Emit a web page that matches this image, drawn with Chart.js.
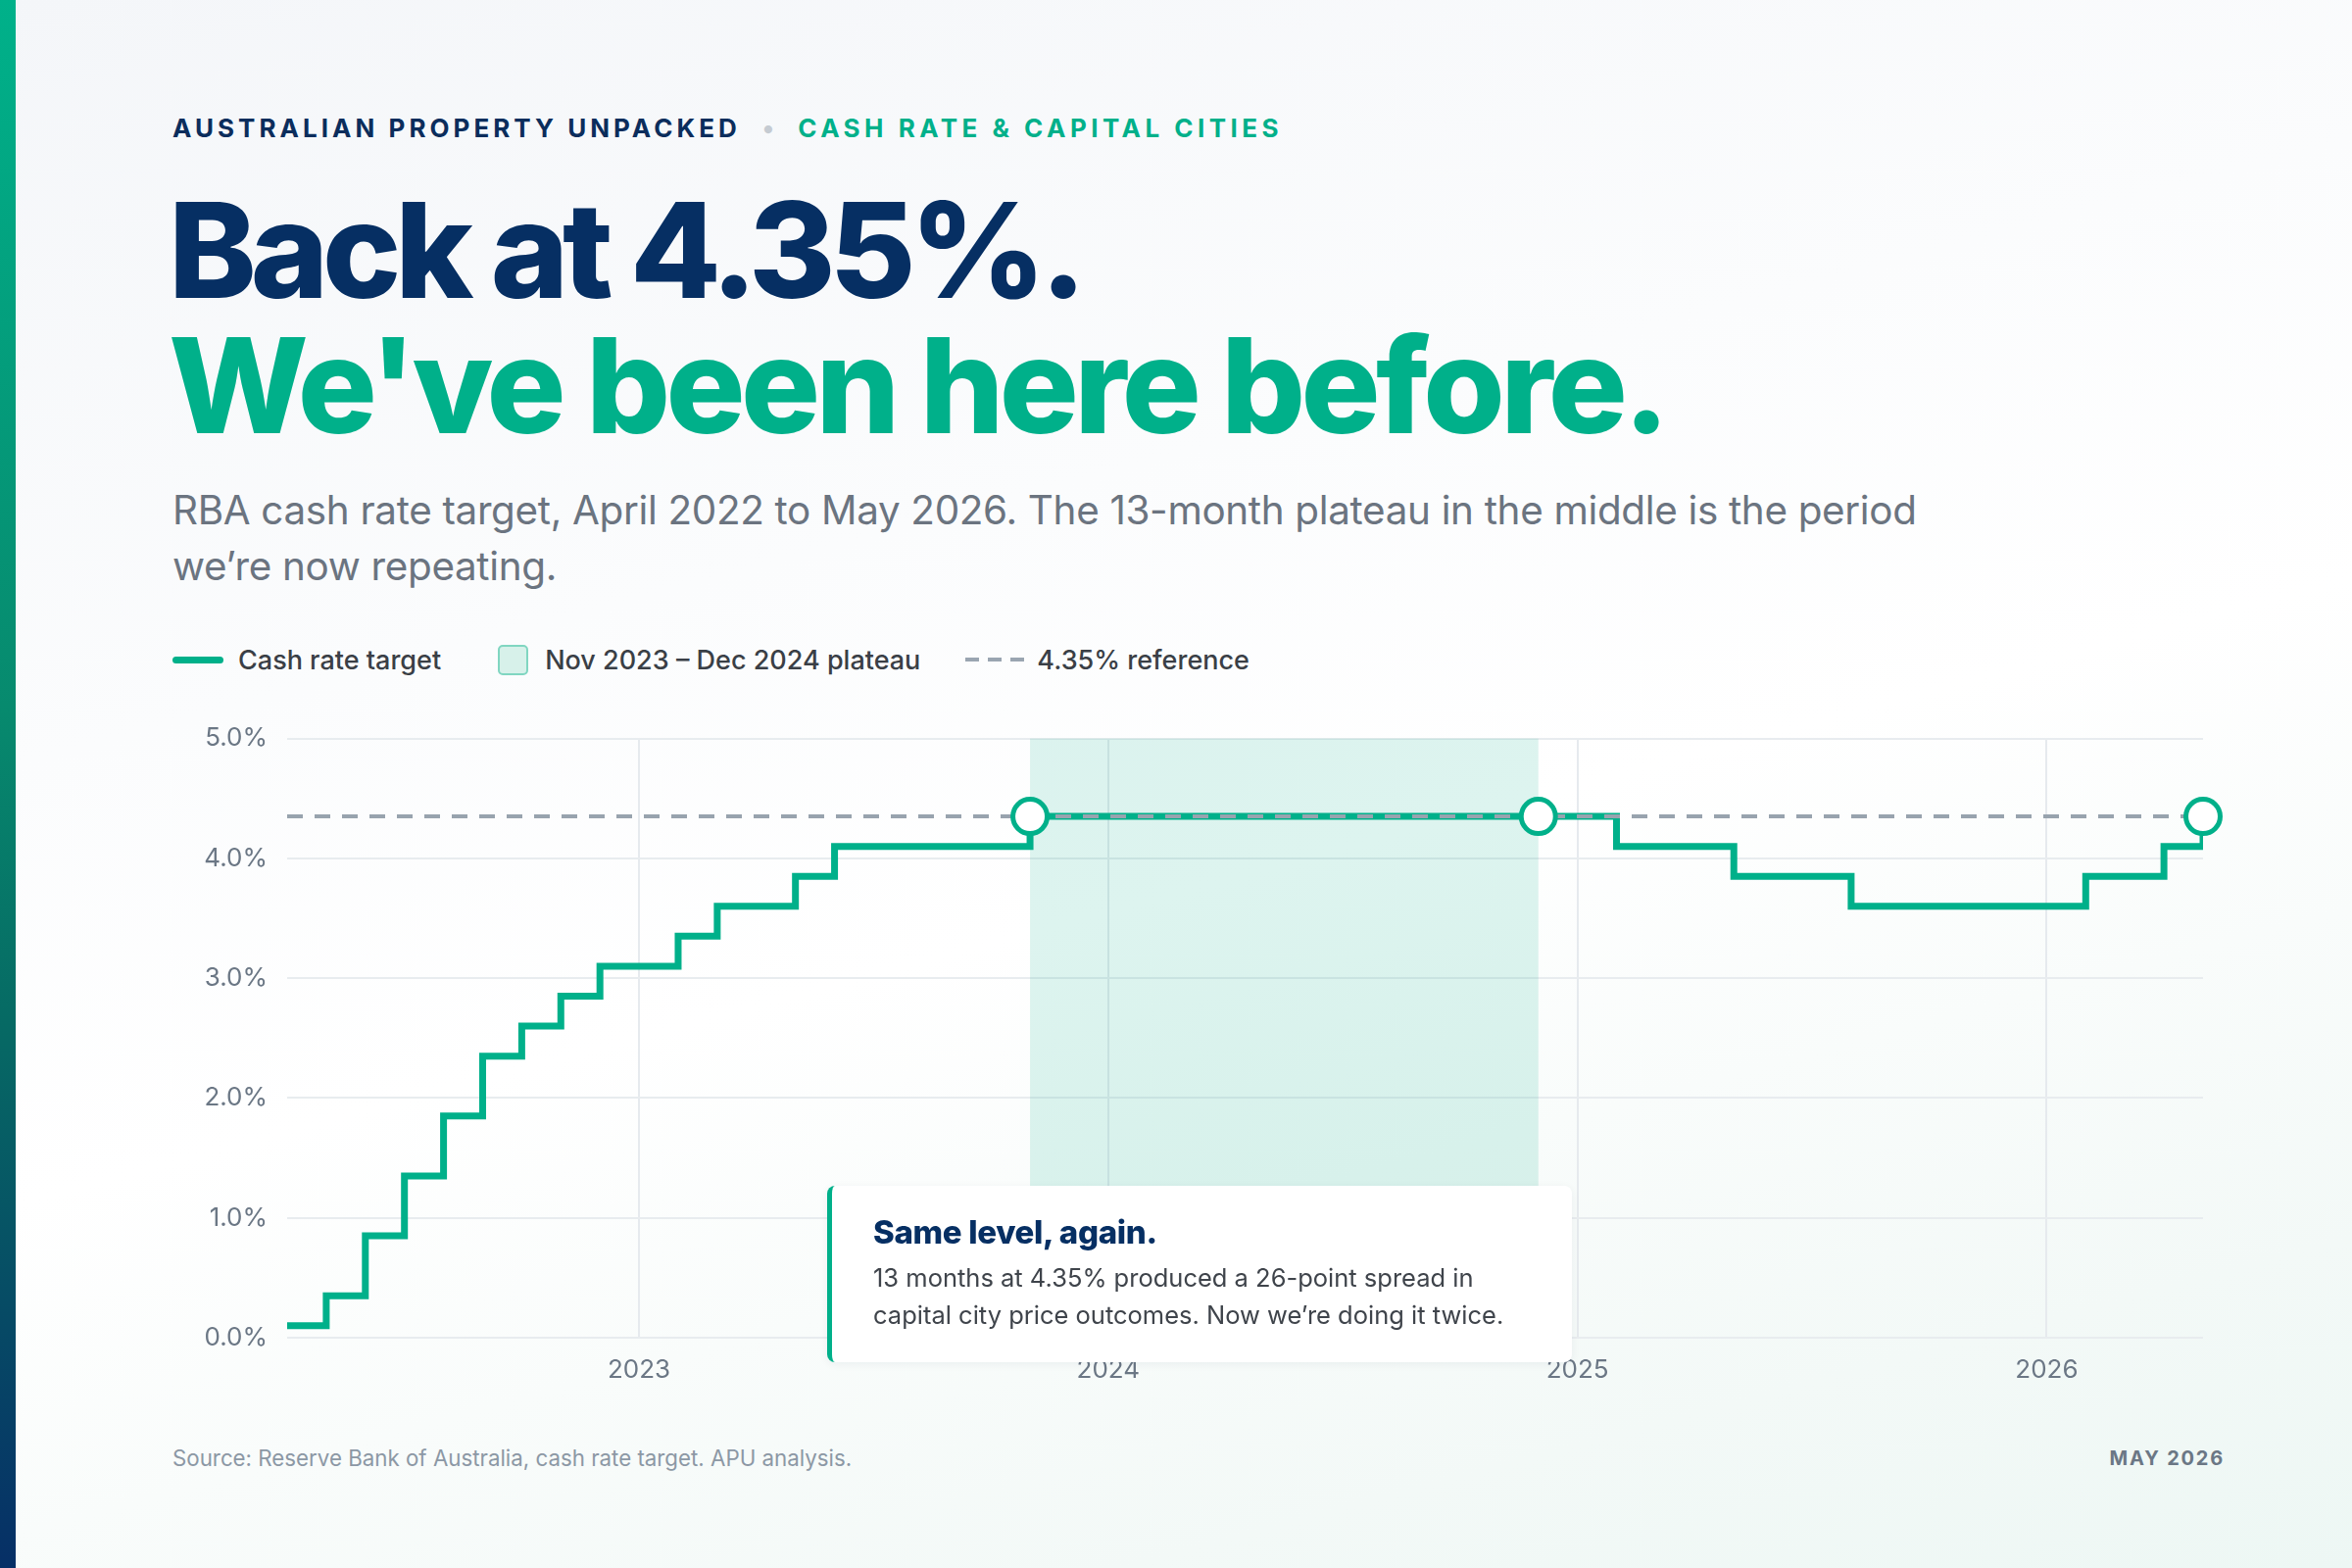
<!DOCTYPE html>
<html>
<head>
<meta charset="utf-8">
<script src="https://cdn.jsdelivr.net/npm/chart.js@4/dist/chart.umd.min.js"></script>
<style>
  html, body { margin: 0; padding: 0; }
  body {
    width: 2400px; height: 1600px; position: relative; overflow: hidden;
    font-family: Inter, "Noto Sans", sans-serif;
    background: linear-gradient(165deg, #F4F6F9 0%, #FBFCFD 35%, #FFFFFF 55%, #F3F9F7 85%, #EDF7F4 100%);
  }
  .bar { position: absolute; left: 0; top: 0; width: 16px; height: 1600px;
    background: linear-gradient(180deg, #00B18A 0%, #078A6E 45%, #066A64 65%, #062F66 100%); }
  .abs { position: absolute; white-space: nowrap; }
  .kicker { left: 176px; top: 116px; line-height: 30px; font-size: 26px; font-weight: 700; letter-spacing: 0.155em; color: #0B2D5C; }
  .kicker .dot { color: #C5CBD2; margin: 0 24px 0 22px; letter-spacing: 0; }
  .kicker .green { color: #00B08A; letter-spacing: 0.172em; }
  .title { left: 172px; line-height: 138px; font-size: 135px; font-weight: 800; letter-spacing: -0.045em; }
  .t1 { top: 186px; color: #062F63; }
  .t2 { top: 324px; color: #00B08A; letter-spacing: -0.034em; }
  .sub { left: 176px; top: 492px; line-height: 57px; font-size: 40.4px; color: #6B7480; font-weight: 400; letter-spacing: -0.008em; }
  .legend { left: 176px; top: 653px; height: 40px; display: flex; align-items: center; font-size: 27px; font-weight: 500; color: #3A3F46; }
  .legend .item { display: flex; align-items: center; }
  .legend .i1 { margin-right: 58px; }
  .legend .i2 { margin-right: 46px; }
  .sw-line { width: 52px; height: 7px; border-radius: 4px; background: #00B08A; margin-right: 15px; }
  .sw-box { width: 27px; height: 27px; border-radius: 5px; background: #D7F1EA; border: 2px solid #80D6C1; margin-right: 17px; }
  .sw-dash { width: 60px; height: 4px; margin-right: 13px;
    background: repeating-linear-gradient(90deg, #9AA5B1 0 14px, transparent 14px 23px); }
  #wrap { position: absolute; left: 176px; top: 718px; width: 2104px; height: 707px; }
  .note { left: 844px; top: 1210px; width: 760px; height: 180px; box-sizing: border-box;
    background: #FFFFFF; border-left: 5px solid #00B08A; border-radius: 8px;
    box-shadow: 0 2px 10px rgba(20, 40, 60, 0.06); padding: 27px 0 0 42px; white-space: normal; }
  .note h3 { margin: 0; font-size: 33px; line-height: 40px; font-weight: 800; color: #062F63; letter-spacing: -0.01em; }
  .note p { margin: 8px 0 0 0; font-size: 25.5px; line-height: 38px; color: #3F444B; }
  .source { left: 176px; top: 1476px; line-height: 24px; font-size: 22.3px; color: #8C98A5; }
  .date { right: 130px; top: 1476px; line-height: 24px; font-size: 20px; font-weight: 700; letter-spacing: 0.09em; color: #6B7785; }
</style>
</head>
<body>
<div class="bar"></div>
<div class="abs kicker">AUSTRALIAN PROPERTY UNPACKED<span class="dot">•</span><span class="green">CASH RATE &amp; CAPITAL CITIES</span></div>
<div class="abs title t1">Back at 4.35%.</div>
<div class="abs title t2">We've been here before.</div>
<div class="abs sub">RBA cash rate target, April 2022 to May 2026. The 13-month plateau in the middle is the period<br>we’re now repeating.</div>
<div class="abs legend">
  <div class="item i1"><span class="sw-line"></span>Cash rate target</div>
  <div class="item i2"><span class="sw-box"></span>Nov 2023 – Dec 2024 plateau</div>
  <div class="item"><span class="sw-dash"></span>4.35% reference</div>
</div>
<div id="wrap"><canvas id="chart"></canvas></div>
<div class="abs note">
  <h3>Same level, again.</h3>
  <p>13 months at 4.35% produced a 26-point spread in<br>capital city price outcomes. Now we’re doing it twice.</p>
</div>
<div class="abs source">Source: Reserve Bank of Australia, cash rate target. APU analysis.</div>
<div class="abs date">MAY 2026</div>

<script>
// cash rate target: month the new rate took effect, and the rate
const changeMonths = ['2022-04', '2022-05', '2022-06', '2022-07', '2022-08', '2022-09', '2022-10', '2022-11', '2022-12',
    '2023-02', '2023-03', '2023-05', '2023-06', '2023-11', '2024-12', '2025-02', '2025-05', '2025-08', '2026-02', '2026-04', '2026-05'];
const cashRates = [0.10, 0.35, 0.85, 1.35, 1.85, 2.35, 2.60, 2.85, 3.10,
    3.35, 3.60, 3.85, 4.10, 4.35, 4.35, 4.10, 3.85, 3.60, 3.85, 4.10, 4.35];

const markerMonths = ['2023-11', '2024-12', '2026-05'];
const referenceRate = 4.35;
const plateauStart = '2023-11';
const plateauEnd = '2024-12';

const axisStart = '2022-04';
const axisEnd = '2026-05';
const yearTicks = ['2023-01', '2024-01', '2025-01', '2026-01'];
const yearLabels = ['2023', '2024', '2025', '2026'];
const yTicks = [0, 1, 2, 3, 4, 5];

const GREEN = '#00B08A';

// months since April 2022
function monthIndex(s) {
    const [y, m] = s.split('-').map(Number);
    const [y0, m0] = axisStart.split('-').map(Number);
    return (y - y0) * 12 + (m - m0);
}

const stepData = changeMonths.map((m, i) => ({ x: monthIndex(m), y: cashRates[i] }));
const markerData = markerMonths.map(m => ({ x: monthIndex(m), y: referenceRate }));
const refData = [{ x: monthIndex(axisStart), y: referenceRate }, { x: monthIndex(axisEnd), y: referenceRate }];

const plateauBand = {
    id: 'plateauBand',
    beforeDatasetsDraw(chart) {
        const { ctx, chartArea, scales } = chart;
        const x1 = scales.x.getPixelForValue(monthIndex(plateauStart));
        const x2 = scales.x.getPixelForValue(monthIndex(plateauEnd));
        ctx.save();
        ctx.fillStyle = 'rgba(0, 176, 138, 0.135)';
        ctx.fillRect(x1, chartArea.top, x2 - x1, chartArea.bottom - chartArea.top);
        ctx.restore();
    }
};

const tickFont = { family: 'Inter', size: 26, weight: '400' };

new Chart(document.getElementById('chart'), {
    type: 'line',
    data: {
        datasets: [
            {
                label: 'markers',
                data: markerData,
                showLine: false,
                clip: false,
                pointRadius: 17.5,
                pointBorderWidth: 5,
                pointBackgroundColor: '#FFFFFF',
                pointBorderColor: GREEN,
                order: 0
            },
            {
                label: '4.35% reference',
                data: refData,
                borderColor: '#98A3AE',
                borderWidth: 4,
                borderDash: [16, 12],
                pointRadius: 0,
                order: 1
            },
            {
                label: 'Cash rate target',
                data: stepData,
                stepped: true,
                borderColor: GREEN,
                borderWidth: 7,
                borderJoinStyle: 'miter',
                pointRadius: 0,
                order: 2
            }
        ]
    },
    options: {
        responsive: true,
        maintainAspectRatio: false,
        animation: false,
        layout: { padding: { top: 10, right: 32, bottom: 0, left: 0 } },
        plugins: { legend: { display: false }, tooltip: { enabled: false } },
        scales: {
            x: {
                type: 'linear',
                min: monthIndex(axisStart),
                max: monthIndex(axisEnd),
                afterBuildTicks: axis => { axis.ticks = yearTicks.map(t => ({ value: monthIndex(t) })); },
                afterFit: axis => { axis.height = 60; },
                ticks: {
                    padding: 18,
                    color: '#6B7785',
                    font: tickFont,
                    autoSkip: false,
                    maxRotation: 0,
                    callback: v => yearLabels[yearTicks.findIndex(t => monthIndex(t) === v)]
                },
                grid: { color: '#E6EAEE', lineWidth: 2, drawTicks: false },
                border: { display: false }
            },
            y: {
                min: 0,
                max: 5,
                afterBuildTicks: axis => { axis.ticks = yTicks.map(v => ({ value: v })); },
                afterFit: axis => { axis.width = 117; },
                ticks: {
                    padding: 20,
                    color: '#6B7785',
                    font: tickFont,
                    callback: v => v.toFixed(1) + '%'
                },
                grid: { color: '#E8ECEF', lineWidth: 2, drawTicks: false },
                border: { display: false }
            }
        }
    },
    plugins: [plateauBand]
});
</script>
</body>
</html>
